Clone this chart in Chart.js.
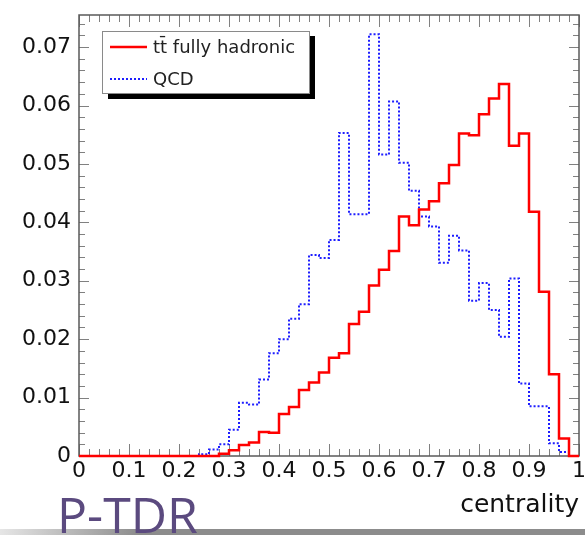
<!DOCTYPE html>
<html>
<head>
<meta charset="utf-8">
<script src="https://cdn.jsdelivr.net/npm/chart.js@4.4.0/dist/chart.umd.min.js"></script>
<style>
    html, body { margin: 0; padding: 0; background: #fff; }
    #wrap { width: 585px; height: 535px; }
</style>
</head>
<body>
<div id="wrap"><canvas id="chart_centrality" width="585" height="535"></canvas></div>
<script>
// lower edge of every 0.02 wide centrality bin
const binLow = [
    0.00, 0.02, 0.04, 0.06, 0.08, 0.10, 0.12, 0.14, 0.16, 0.18,
    0.20, 0.22, 0.24, 0.26, 0.28, 0.30, 0.32, 0.34, 0.36, 0.38,
    0.40, 0.42, 0.44, 0.46, 0.48, 0.50, 0.52, 0.54, 0.56, 0.58,
    0.60, 0.62, 0.64, 0.66, 0.68, 0.70, 0.72, 0.74, 0.76, 0.78,
    0.80, 0.82, 0.84, 0.86, 0.88, 0.90, 0.92, 0.94, 0.96, 0.98
];

// normalised entries per bin
const ttbarHadronic = [
    0, 0, 0, 0, 0, 0, 0, 0, 0, 0,
    0, 0, 0, 0, 0.0004, 0.0010, 0.0019, 0.0023, 0.0041, 0.0040,
    0.0072, 0.0084, 0.0113, 0.0126, 0.0143, 0.0168, 0.0176, 0.0226, 0.0247, 0.0292,
    0.0319, 0.0351, 0.0410, 0.0395, 0.0422, 0.0436, 0.0467, 0.0498, 0.0552, 0.0549,
    0.0585, 0.0612, 0.0637, 0.0531, 0.0552, 0.0418, 0.0281, 0.0140, 0.0030, 0
];

const qcd = [
    0, 0, 0, 0, 0, 0, 0, 0, 0, 0,
    0, 0, 0.0003, 0.0011, 0.0020, 0.0045, 0.0091, 0.0088, 0.0131, 0.0176,
    0.0200, 0.0235, 0.0260, 0.0344, 0.0339, 0.0370, 0.0553, 0.0414, 0.0414, 0.0722,
    0.0516, 0.0607, 0.0502, 0.0454, 0.0410, 0.0393, 0.0331, 0.0377, 0.0352, 0.0266,
    0.0296, 0.0250, 0.0204, 0.0304, 0.0124, 0.0085, 0.0085, 0.0022, 0.0007, 0
];

const xTickValues = [0, 0.1, 0.2, 0.3, 0.4, 0.5, 0.6, 0.7, 0.8, 0.9, 1];
const yTickValues = [0, 0.01, 0.02, 0.03, 0.04, 0.05, 0.06, 0.07];

const axisFont = 'DejaVu Sans';

document.addEventListener('DOMContentLoaded', function () {
    const chartElement = document.getElementById('chart_centrality');

    // histogram as step points: one per bin low edge, plus the closing edge at 1
    function toSteps(values) {
        const pts = binLow.map((x, i) => ({ x: x, y: values[i] }));
        pts.push({ x: 1, y: values[values.length - 1] });
        return pts;
    }

    // ROOT style frame with inward ticks on all four sides
    const frameTicks = {
        id: 'frameTicks',
        beforeDatasetsDraw(chart) {
            const { ctx, chartArea: a, scales: { x, y } } = chart;
            ctx.save();
            ctx.strokeStyle = '#808080';
            ctx.lineWidth = 1;
            const seg = (x1, y1, x2, y2) => {
                ctx.beginPath();
                ctx.moveTo(x1, y1);
                ctx.lineTo(x2, y2);
                ctx.stroke();
            };
            for (let i = 0; i <= 50; i++) {
                const px = Math.round(x.getPixelForValue(i * 0.02)) + 0.5;
                const len = i % 5 === 0 ? 12 : 7;
                seg(px, a.bottom, px, a.bottom - len);
                seg(px, a.top, px, a.top + len);
            }
            for (let i = 0; i * 0.002 <= y.max; i++) {
                const py = Math.round(y.getPixelForValue(i * 0.002)) + 0.5;
                const len = i % 5 === 0 ? 10 : 6;
                seg(a.left, py, a.left + len, py);
                seg(a.right, py, a.right - len, py);
            }
            ctx.strokeStyle = '#5a5a5a';
            ctx.lineWidth = 1.5;
            ctx.strokeRect(a.left, a.top, a.right - a.left, a.bottom - a.top);
            ctx.restore();
        }
    };

    // legend box with drop shadow, plus slide decorations
    const boxLegend = {
        id: 'boxLegend',
        afterDraw(chart) {
            const ctx = chart.ctx;
            ctx.save();

            // legend
            ctx.fillStyle = '#000';
            ctx.fillRect(108, 36, 207, 63);
            ctx.fillStyle = '#fff';
            ctx.fillRect(102, 31, 208, 63);
            ctx.strokeStyle = '#8a8a8a';
            ctx.lineWidth = 1;
            ctx.strokeRect(102.5, 31.5, 207, 62);

            const rows = [47, 79];
            chart.data.datasets.forEach((ds, i) => {
                const ly = rows[i];
                ctx.strokeStyle = ds.borderColor;
                ctx.lineWidth = ds.borderWidth;
                ctx.setLineDash(ds.borderDash || []);
                ctx.beginPath();
                ctx.moveTo(110, ly);
                ctx.lineTo(147, ly);
                ctx.stroke();
                ctx.setLineDash([]);
                ctx.fillStyle = '#222';
                ctx.font = '18px "' + axisFont + '"';
                ctx.textBaseline = 'middle';
                ctx.textAlign = 'left';
                ctx.fillText(ds.label, 153, ly + 1);
            });

            // grey slide edge along the bottom
            const g = ctx.createLinearGradient(0, 0, 140, 0);
            g.addColorStop(0, '#e6e6e6');
            g.addColorStop(1, '#8c8c8c');
            ctx.fillStyle = g;
            ctx.fillRect(0, 529, 585, 6);

            ctx.fillStyle = '#5b4a7f';
            ctx.font = '50px "Open Sans"';
            ctx.textBaseline = 'alphabetic';
            ctx.fillText('P-TDR', 57, 533);
            ctx.restore();
        }
    };

    new Chart(chartElement.getContext('2d'), {
        type: 'line',
        data: {
            datasets: [
                {
                    label: 'tt\u0304 fully hadronic',
                    data: toSteps(ttbarHadronic),
                    borderColor: '#ff0000',
                    borderWidth: 2.5,
                    stepped: 'before',
                    pointRadius: 0,
                    fill: false,
                    clip: false,
                    order: 1
                },
                {
                    label: 'QCD',
                    data: toSteps(qcd),
                    borderColor: '#1e1eff',
                    borderWidth: 2,
                    borderDash: [2, 2],
                    stepped: 'before',
                    pointRadius: 0,
                    fill: false,
                    clip: false,
                    order: 2
                }
            ]
        },
        plugins: [frameTicks, boxLegend],
        options: {
            responsive: false,
            animation: false,
            layout: { padding: { top: 15, right: 6, left: 0, bottom: 0 } },
            plugins: {
                legend: { display: false },
                tooltip: { enabled: false }
            },
            scales: {
                x: {
                    type: 'linear',
                    min: 0,
                    max: 1,
                    grid: { display: false, drawTicks: false },
                    border: { display: false },
                    afterBuildTicks: s => { s.ticks = xTickValues.map(v => ({ value: v })); },
                    ticks: {
                        padding: 2,
                        color: '#111',
                        autoSkip: false,
                        maxRotation: 0,
                        font: { family: axisFont, size: 22 },
                        callback: v => (v === 0 ? '0' : v === 1 ? '1' : v.toFixed(1))
                    },
                    title: {
                        display: true,
                        text: 'centrality',
                        align: 'end',
                        color: '#111',
                        font: { family: axisFont, size: 25 },
                        padding: { top: 0, bottom: 15 }
                    },
                    afterFit: s => {
                        s.height = 79;
                        s.paddingLeft = 0;
                        s.paddingRight = 0;
                    }
                },
                y: {
                    type: 'linear',
                    min: 0,
                    max: 0.0755,
                    grid: { display: false, drawTicks: false },
                    border: { display: false },
                    afterBuildTicks: s => { s.ticks = yTickValues.map(v => ({ value: v })); },
                    ticks: {
                        padding: 8,
                        color: '#111',
                        font: { family: axisFont, size: 22 },
                        callback: v => (v === 0 ? '0' : v.toFixed(2))
                    },
                    afterFit: s => {
                        s.width = 79;
                        s.paddingTop = 0;
                        s.paddingBottom = 0;
                    }
                }
            }
        }
    });
});
</script>
</body>
</html>
